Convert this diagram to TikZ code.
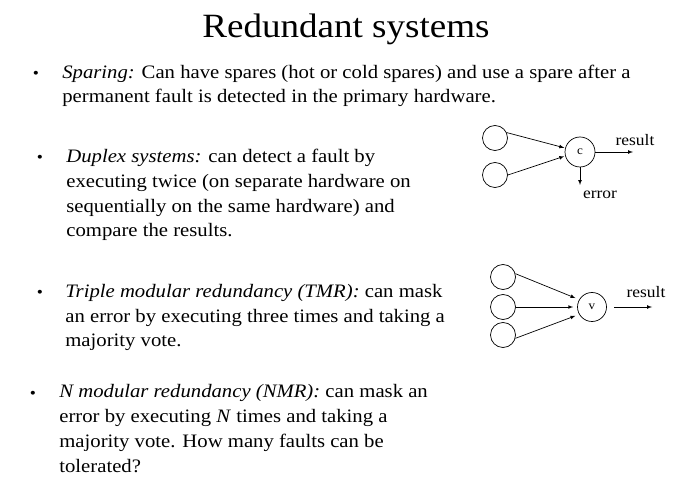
\documentclass[tikz,border=0pt]{standalone}
\usepackage{fontspec}
\setmainfont[FakeStretch=1.09]{Liberation Serif}
\usepackage{tikz}

\begin{document}
\begin{tikzpicture}[x=1pt,y=-1pt,line width=0.7pt,
	unit/.style={draw,circle,minimum size=25pt,inner sep=0pt},
	judge/.style={draw,circle,minimum size=30pt,inner sep=0pt,font=\fontsize{12}{12}\selectfont},
	para/.style={anchor=base west,align=left,inner sep=0pt,font=\fontsize{19}{24.7}\selectfont},
	dot/.style={anchor=base,inner sep=0pt,font=\fontsize{16}{16}\selectfont},
	lbl/.style={inner sep=0pt,font=\fontsize{16}{16}\selectfont},
	flow/.style={-latex}]
			\useasboundingbox (0,0) rectangle (691,486);

			\node (title) [anchor=base,inner sep=0pt,font=\fontsize{34}{34}\selectfont] at (346,38) {Redundant systems};

			% the base of a text block is its last line
			\node (b1) [dot] at (36,79) {•};
			\node (sparing) [para] at (62,103) {\textit{Sparing:} Can have spares (hot or cold spares) and use a spare after a\\permanent fault is detected in the primary hardware.};

			\node (b2) [dot] at (40,163) {•};
			\node (duplex) [para] at (66,237) {\textit{Duplex systems:} can detect a fault by\\executing twice (on separate hardware on\\sequentially on the same hardware) and\\compare the results.};

			\node (b3) [dot] at (40,298) {•};
			\node (tmr) [para] at (65,347) {\textit{Triple modular redundancy (TMR):} can mask\\an error by executing three times and taking a\\majority vote.};

			\node (b4) [dot] at (33,398) {•};
			\node (nmr) [para] at (59,472) {\textit{N modular redundancy (NMR):} can mask an\\error by executing \textit{N} times and taking a\\majority vote. How many faults can be\\tolerated?};

			% duplex
			\node (d1) [unit] at (495,138) {};
			\node (d2) [unit] at (495,175) {};
			\node (c) [judge] at (580,152) {c};
			\coordinate (dout) at (633,152);
			\coordinate (derr) at (580,185);
			\draw [flow,shorten >=1pt] (d1.25) -- (c.165);
			\draw [flow,shorten >=1pt] (d2.east) -- (c.195);
			\draw [flow] (c.east) -- (dout);
			\draw [flow] (c.south) -- (derr);
			\node (dres) [lbl] at (635,140) {result};
			\node (derror) [lbl] at (600,195) {error};

			% tmr
			\node (t1) [unit] at (503,277) {};
			\node (t2) [unit] at (503,307) {};
			\node (t3) [unit] at (503,335) {};
			\node (v) [judge,minimum size=29pt] at (592,307) {v};
			\coordinate (vin) at (614,307);
			\coordinate (tout) at (652,307);
			\draw [flow,shorten >=4pt] (t1.15) -- (v.150);
			\draw [flow,shorten >=4pt] (t2.east) -- (v.west);
			\draw [flow,shorten >=4pt] (t3.-15) -- (v.210);
			\draw [flow] (vin) -- (tout);
			\node (tres) [lbl] at (646,292) {result};
			\end{tikzpicture}
\end{document}
